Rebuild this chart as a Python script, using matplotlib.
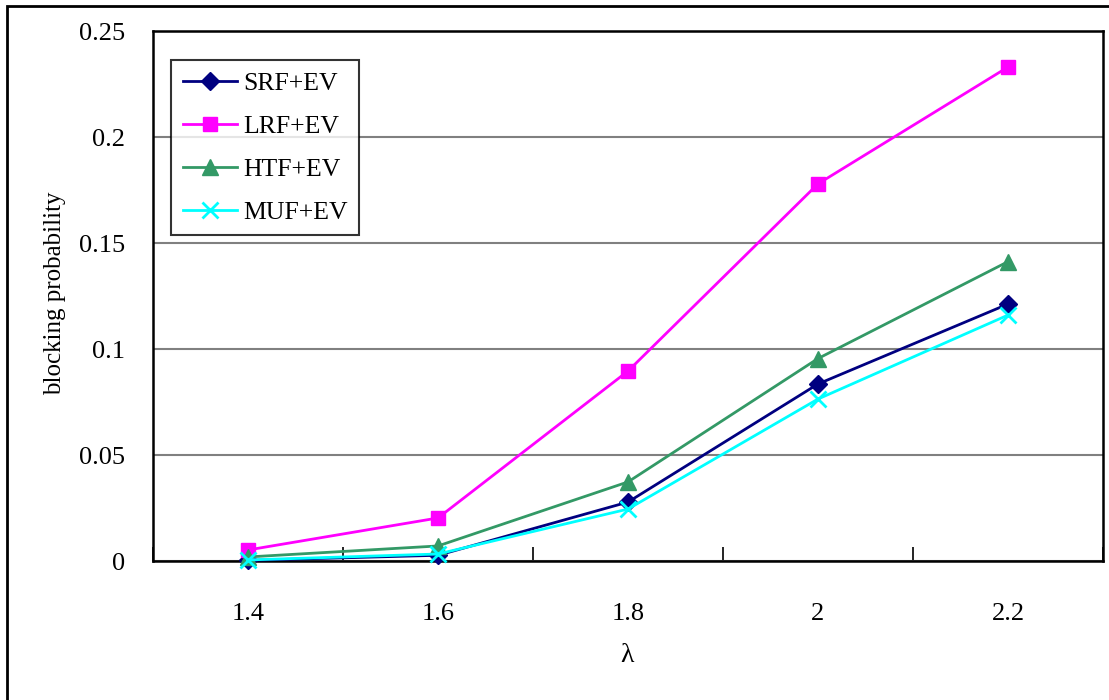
import matplotlib
matplotlib.use("Agg")
import matplotlib.pyplot as plt
from matplotlib.patches import Rectangle

plt.rcParams['font.family'] = ['Liberation Serif', 'DejaVu Serif']

lam = ["1.4", "1.6", "1.8", "2", "2.2"]
srf_ev = [0.0003, 0.0027, 0.0278, 0.0835, 0.1212]
lrf_ev = [0.0052, 0.0203, 0.0896, 0.1779, 0.2330]
htf_ev = [0.0019, 0.0071, 0.0373, 0.0955, 0.1412]
muf_ev = [0.0005, 0.0033, 0.0245, 0.0764, 0.1160]

W, H = 1109, 700
fig = plt.figure(figsize=(W / 100, H / 100), dpi=100)
ax = fig.add_axes([153 / W, 1 - 561 / H, 950 / W, 530 / H])

x = list(range(len(lam)))
series = [
    ("SRF+EV", srf_ev, "#000080", "D", 9),
    ("LRF+EV", lrf_ev, "#FF00FF", "s", 10),
    ("HTF+EV", htf_ev, "#339966", "^", 11),
    ("MUF+EV", muf_ev, "#00FFFF", "x", 11),
]
for name, vals, col, mk, ms in series:
    ax.plot(x, vals, color=col, lw=2, marker=mk, markersize=ms,
            markeredgewidth=2 if mk == "x" else 1, markeredgecolor=col,
            markerfacecolor=col, label=name, clip_on=False, zorder=3)

ax.set_xlim(-0.5, len(lam) - 0.5)
ax.set_ylim(0, 0.25)
ax.set_yticks([0, 0.05, 0.1, 0.15, 0.2, 0.25])
ax.set_yticklabels(["0", "0.05", "0.1", "0.15", "0.2", "0.25"])
ax.yaxis.grid(True, color="#808080", lw=1.5)
ax.set_axisbelow(True)

# category labels at centres, tick marks on the category boundaries
ax.set_xticks(x)
ax.set_xticklabels(lam)
ax.set_xticks([i + 0.5 for i in range(-1, len(lam))], minor=True)
ax.tick_params(axis="x", which="major", length=0, pad=30, labelsize=19)
ax.tick_params(axis="x", which="minor", direction="in", length=10, width=1.2)
ax.tick_params(axis="y", length=0, pad=20, labelsize=19)

for s in ax.spines.values():
    s.set_color("black")
    s.set_linewidth(1.8)

fig.text(55 / W, 1 - 293 / H, "blocking probability", rotation=90,
         ha="center", va="center", fontsize=18)
fig.text(627 / W, 1 - 655 / H, "λ", ha="center", va="center", fontsize=20)

leg = ax.legend(loc="upper left", bbox_to_anchor=((171 - 153) / 950, (561 - 60) / 530),
                frameon=True, fancybox=False, edgecolor="black", fontsize=18.5,
                handlelength=2.1, handletextpad=0.25, labelspacing=0.78,
                borderpad=0.45, borderaxespad=0)
leg.get_frame().set_linewidth(1.5)

# outer chart-area border
fig.patches.append(Rectangle((7, -20), W + 20, H - 6 + 20, transform=None,
                             fill=False, edgecolor="black", lw=2))

fig.savefig("out.png", dpi=100)
